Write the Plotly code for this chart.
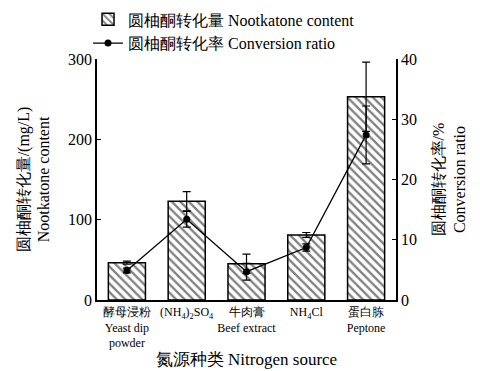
import plotly.graph_objects as go

# Nitrogen source categories (tick labels)
categories = [
    "酵母浸粉<br>Yeast dip<br>powder",
    "(NH<sub>4</sub>)<sub>2</sub>SO<sub>4</sub>",
    "牛肉膏<br>Beef extract",
    "NH<sub>4</sub>Cl",
    "蛋白胨<br>Peptone",
]

# Nootkatone content (mg/L) and its error
content = [46.5, 123, 45, 81, 253]
content_err = [2, 12, 12, 3, 43]

# Conversion ratio (%) and its error
ratio = [4.9, 13.4, 4.7, 8.7, 27.4]
ratio_err = [0.4, 1.3, 1.4, 0.6, 4.8]

FONT = "Liberation Serif"

fig = go.Figure()

fig.add_trace(go.Bar(
    x=categories,
    y=content,
    name="圆柚酮转化量 Nootkatone content",
    width=0.62,
    marker=dict(
        color="white",
        line=dict(color="black", width=1.5),
        pattern=dict(shape="\\", size=6, solidity=0.38, fgcolor="black", bgcolor="white"),
    ),
    error_y=dict(type="data", array=content_err, visible=True,
                 color="black", thickness=1.2, width=4),
))

fig.add_trace(go.Scatter(
    x=categories,
    y=ratio,
    yaxis="y2",
    name="圆柚酮转化率 Conversion ratio",
    mode="lines+markers",
    line=dict(color="black", width=1.3),
    marker=dict(color="black", size=7, symbol="circle"),
    error_y=dict(type="data", array=ratio_err, visible=True,
                 color="black", thickness=1.2, width=4),
))

fig.update_layout(
    width=480,
    height=371,
    margin=dict(l=97, r=84, t=59, b=71, autoexpand=False),
    paper_bgcolor="white",
    plot_bgcolor="white",
    font=dict(family=FONT, color="black", size=15),
    showlegend=True,
    legend=dict(
        x=-0.03, y=1.235, xanchor="left", yanchor="top",
        font=dict(size=16, family=FONT),
        bgcolor="rgba(0,0,0,0)",
        tracegroupgap=0,
        itemwidth=30,
    ),
    xaxis=dict(
        showline=True, linecolor="black", linewidth=1.5,
        ticks="", tickfont=dict(size=12, family=FONT),
        title=dict(text="氮源种类 Nitrogen source", font=dict(size=17, family=FONT), standoff=4),
        range=[-0.5, 4.5],
        showgrid=False, zeroline=False,
    ),
    yaxis=dict(
        range=[0, 300], tickvals=[0, 100, 200, 300],
        showline=True, linecolor="black", linewidth=1.5,
        ticks="inside", ticklen=4, tickcolor="black",
        tickfont=dict(size=16, family=FONT),
        showgrid=False, zeroline=False,
        title=dict(text="圆柚酮转化量/(mg/L)<br>Nootkatone content",
                   font=dict(size=16, family=FONT), standoff=14),
    ),
    yaxis2=dict(
        range=[0, 40], tickvals=[0, 10, 20, 30, 40],
        overlaying="y", side="right",
        showline=True, linecolor="black", linewidth=1.5,
        ticks="inside", ticklen=4, tickcolor="black",
        tickfont=dict(size=16, family=FONT),
        showgrid=False, zeroline=False,
        title=dict(text="圆柚酮转化率/%<br>Conversion ratio",
                   font=dict(size=16, family=FONT), standoff=17),
    ),
)

fig.write_html("out.html")
